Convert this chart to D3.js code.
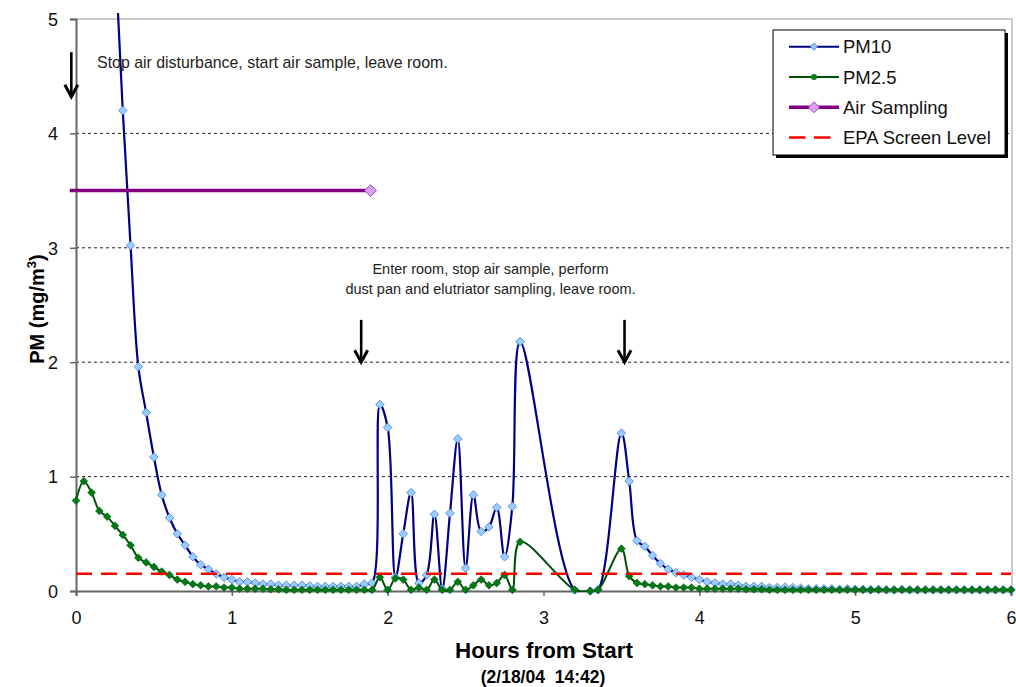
<!DOCTYPE html>
<html>
<head>
<meta charset="utf-8">
<script src="https://cdn.jsdelivr.net/npm/d3@7"></script>
<style>
  body { margin: 0; background: #fff; }
  svg { display: block; font-family: Arial, "Liberation Sans", sans-serif; }
</style>
</head>
<body>
<svg width="1016" height="687"></svg>
<script>
// samples every 3 minutes, 0..6 h (null = no reading)
var sampleStepHours = 0.05;

var pm10 = [
    14.0, 12.0, 10.5, 9.0, 7.2, 5.6, 4.20, 3.02, 1.96, 1.56,
    1.17, 0.84, 0.64, 0.50, 0.40, 0.30, 0.23, 0.19, 0.15, 0.12,
    0.10, 0.08, 0.08, 0.07, 0.06, 0.06, 0.05, 0.05, 0.05, 0.05,
    0.045, 0.04, 0.04, 0.04, 0.04, 0.04, 0.04, 0.06, 0.07, 1.63,
    1.43, 0.12, 0.50, 0.86, 0.07, 0.14, 0.67, 0.02, 0.68, 1.33,
    0.20, 0.84, 0.52, 0.56, 0.73, 0.30, 0.74, 2.18, null, null,
    null, null, null, null, 0.01, null, 0.00, 0.01, null, null,
    1.38, 0.96, 0.44, 0.39, 0.31, 0.24, 0.19, 0.16, 0.14, 0.12,
    0.10, 0.08, 0.07, 0.06, 0.06, 0.05, 0.04, 0.04, 0.04, 0.03,
    0.03, 0.035, 0.03, 0.025, 0.02, 0.02, 0.02, 0.02, 0.015, 0.02,
    0.015, 0.015, 0.01, 0.015, 0.01, 0.01, 0.015, 0.01, 0.01, 0.01,
    0.01, 0.01, 0.01, 0.01, 0.01, 0.01, 0.01, 0.01, 0.01, 0.01, 0.01
];

var pm25 = [
    0.79, 0.96, 0.86, 0.70, 0.65, 0.57, 0.49, 0.40, 0.29, 0.25,
    0.21, 0.17, 0.14, 0.10, 0.08, 0.06, 0.05, 0.04, 0.04, 0.03,
    0.03, 0.02, 0.02, 0.02, 0.02, 0.015, 0.015, 0.01, 0.01, 0.01,
    0.01, 0.01, 0.01, 0.01, 0.01, 0.01, 0.01, 0.01, 0.01, 0.12,
    0.01, 0.11, 0.10, 0.01, 0.03, 0.01, 0.10, 0.01, 0.01, 0.08,
    0.01, 0.05, 0.10, 0.05, 0.07, 0.14, 0.01, 0.43, null, null,
    null, null, null, null, 0.01, null, 0.00, 0.01, null, null,
    0.37, 0.13, 0.07, 0.06, 0.05, 0.04, 0.04, 0.03, 0.03, 0.03,
    0.02, 0.02, 0.02, 0.02, 0.02, 0.02, 0.015, 0.015, 0.015, 0.01,
    0.01, 0.01, 0.01, 0.01, 0.01, 0.01, 0.01, 0.01, 0.01, 0.01,
    0.01, 0.01, 0.01, 0.01, 0.01, 0.01, 0.01, 0.01, 0.01, 0.01,
    0.01, 0.01, 0.01, 0.01, 0.01, 0.01, 0.01, 0.01, 0.01, 0.01, 0.01
];

var airSamplingHours = [-0.04, 1.89];
var airSamplingLevel = [3.5, 3.5];
var epaHours = [0, 6];
var epaLevel = [0.15, 0.15];

var xTicks = [0, 1, 2, 3, 4, 5, 6];
var yTicks = [0, 1, 2, 3, 4, 5];

var seriesNames = ["PM10", "PM2.5", "Air Sampling", "EPA Screen Level"];

// arrows: hour, from value, to value
var arrowHours = [-0.03, 1.83, 3.52];
var arrowFrom = [4.71, 2.37, 2.37];
var arrowTo = [4.32, 2.0, 2.0];

var note1 = "Stop air disturbance, start air sample, leave room.";
var note2 = ["Enter room, stop air sample, perform", "dust pan and elutriator sampling, leave room."];

var svg = d3.select("svg");
var plotLeft = 76, plotRight = 1011, plotTop = 19, plotBottom = 591;

var x = d3.scaleLinear().domain([0, 6]).range([plotLeft, plotRight]);
var y = d3.scaleLinear().domain([0, 5]).range([plotBottom, plotTop]);

function toPoints(vals) {
    var pts = [];
    vals.forEach(function (v, i) {
        if (v !== null) pts.push({ h: i * sampleStepHours, v: v });
    });
    return pts;
}
var pm10Pts = toPoints(pm10);
var pm25Pts = toPoints(pm25);

function diamond(r) {
    return "M0," + (-r) + "L" + r + ",0L0," + r + "L" + (-r) + ",0Z";
}

// lines are cut at the plot area (a little slack at the top, like the original)
svg.append("defs").append("clipPath").attr("id", "clip")
    .append("rect").attr("x", 0).attr("y", plotTop - 6)
    .attr("width", plotRight + 2).attr("height", plotBottom - plotTop + 7);

// gridlines
svg.append("g").selectAll("line")
    .data(yTicks.filter(d => d > 0 && d < 5))
    .enter().append("line")
    .attr("x1", plotLeft).attr("x2", plotRight)
    .attr("y1", d => y(d)).attr("y2", d => y(d))
    .attr("stroke", "#222").attr("stroke-width", 1)
    .attr("stroke-dasharray", "3,3");

// plot border top/right
svg.append("line").attr("x1", plotLeft).attr("x2", plotRight + 1)
    .attr("y1", y(5)).attr("y2", y(5)).attr("stroke", "#999");
svg.append("line").attr("x1", plotRight + 1).attr("x2", plotRight + 1)
    .attr("y1", y(5)).attr("y2", y(0)).attr("stroke", "#999");

// axes
var xAxis = svg.append("g").attr("transform", "translate(0," + plotBottom + ")")
    .call(d3.axisBottom(x).tickValues(xTicks).tickFormat(d3.format("d")).tickSize(5).tickPadding(15));
var yAxis = svg.append("g").attr("transform", "translate(" + plotLeft + ",0)")
    .call(d3.axisLeft(y).tickValues(yTicks).tickFormat(d3.format("d")).tickSize(6).tickPadding(12));
[xAxis, yAxis].forEach(function (a) {
    a.select(".domain").attr("stroke", "#666").attr("stroke-width", 2);
    a.selectAll(".tick line").attr("stroke", "#666").attr("stroke-width", 1.5);
    a.selectAll(".tick text").attr("font-size", 18).attr("fill", "#111")
        .attr("font-family", "Arial, 'Liberation Sans', sans-serif");
});
yAxis.selectAll(".tick text").attr("dy", "0.35em");

var smooth = d3.line().x(d => x(d.h)).y(d => y(d.v)).curve(d3.curveCatmullRom.alpha(0.5));

// PM10
svg.append("g").attr("clip-path", "url(#clip)")
    .append("path").datum(pm10Pts).attr("d", smooth)
    .attr("fill", "none").attr("stroke", "#000080").attr("stroke-width", 2.2);
svg.append("g").selectAll("path").data(pm10Pts.filter(d => d.v <= 5.05)).enter()
    .append("path").attr("d", diamond(4.3))
    .attr("transform", d => "translate(" + x(d.h) + "," + y(d.v) + ")")
    .attr("fill", "#99ccff").attr("stroke", "#4a7fd8").attr("stroke-width", 0.8);

// PM2.5
svg.append("g").attr("clip-path", "url(#clip)")
    .append("path").datum(pm25Pts).attr("d", smooth)
    .attr("fill", "none").attr("stroke", "#00500a").attr("stroke-width", 2);
svg.append("g").selectAll("path").data(pm25Pts).enter()
    .append("path").attr("d", diamond(3.9))
    .attr("transform", d => "translate(" + x(d.h) + "," + y(d.v) + ")")
    .attr("fill", "#007a14").attr("stroke", "#005a0a").attr("stroke-width", 0.6);

// Air Sampling
var airPts = airSamplingHours.map((h, i) => ({ h: h, v: airSamplingLevel[i] }));
svg.append("path").datum(airPts).attr("d", d3.line().x(d => x(d.h)).y(d => y(d.v)))
    .attr("fill", "none").attr("stroke", "#800080").attr("stroke-width", 3.5);
svg.append("g").selectAll("path").data(airPts.filter(d => d.h >= 0)).enter()
    .append("path").attr("d", diamond(6))
    .attr("transform", d => "translate(" + x(d.h) + "," + y(d.v) + ")")
    .attr("fill", "#d9a0f0").attr("stroke", "#a050c0").attr("stroke-width", 1);

// EPA screen level
var epaPts = epaHours.map((h, i) => ({ h: h, v: epaLevel[i] }));
svg.append("path").datum(epaPts).attr("d", d3.line().x(d => x(d.h)).y(d => y(d.v)))
    .attr("fill", "none").attr("stroke", "#ff0000").attr("stroke-width", 2.5)
    .attr("stroke-dasharray", "16,9");

// arrows
var arrows = svg.append("g");
arrowHours.forEach(function (h, i) {
    var ax = x(h), y0 = y(arrowFrom[i]), y1 = y(arrowTo[i]);
    arrows.append("line").attr("x1", ax).attr("x2", ax).attr("y1", y0).attr("y2", y1 - 1)
        .attr("stroke", "#000").attr("stroke-width", 2.6);
    arrows.append("path")
        .attr("d", "M" + (ax - 6.5) + "," + (y1 - 12) + "L" + ax + "," + y1 + "L" + (ax + 6.5) + "," + (y1 - 12))
        .attr("fill", "none").attr("stroke", "#000").attr("stroke-width", 3)
        .attr("stroke-linejoin", "miter");
});

// notes
svg.append("text").attr("x", x(0.135)).attr("y", y(4.57))
    .attr("font-size", 15.9).attr("fill", "#222").text(note1);
svg.append("g").selectAll("text").data(note2).enter().append("text")
    .attr("x", x(2.66)).attr("y", (d, i) => y(2.77) + i * 20)
    .attr("text-anchor", "middle").attr("font-size", 14.5).attr("fill", "#222")
    .text(d => d);

// axis titles
svg.append("text").attr("x", 544).attr("y", 658)
    .attr("text-anchor", "middle").attr("font-weight", "bold").attr("font-size", 22.4)
    .text("Hours from Start");
svg.append("text").attr("x", 543).attr("y", 683)
    .attr("text-anchor", "middle").attr("font-weight", "bold").attr("font-size", 17.5)
    .style("white-space", "pre")
    .text("(2/18/04  14:42)");
var yt = svg.append("text")
    .attr("transform", "translate(44," + ((plotTop + plotBottom) / 2 + 4) + ") rotate(-90)")
    .attr("text-anchor", "middle").attr("font-weight", "bold").attr("font-size", 20);
yt.append("tspan").text("PM (mg/m");
yt.append("tspan").attr("font-size", 13).attr("dy", -8).text("3");
yt.append("tspan").attr("dy", 8).text(")");

// legend
var lg = svg.append("g").attr("transform", "translate(773,30)");
lg.append("rect").attr("x", 3).attr("y", 3).attr("width", 232).attr("height", 125).attr("fill", "#000");
lg.append("rect").attr("width", 232).attr("height", 125).attr("fill", "#fff")
    .attr("stroke", "#000").attr("stroke-width", 1);
var items = lg.selectAll(".item").data(seriesNames).enter().append("g")
    .attr("class", "item").attr("transform", (d, i) => "translate(0," + (16.7 + i * 30.3) + ")");
var lineStyles = [
    { c: "#000080", w: 2, dash: null },
    { c: "#00500a", w: 2, dash: null },
    { c: "#800080", w: 3.5, dash: null },
    { c: "#ff0000", w: 2.5, dash: "16.5,8.5" }
];
items.append("line").attr("x1", 16).attr("x2", 66).attr("y1", 0).attr("y2", 0)
    .attr("stroke", (d, i) => lineStyles[i].c).attr("stroke-width", (d, i) => lineStyles[i].w)
    .attr("stroke-dasharray", (d, i) => lineStyles[i].dash);
items.filter((d, i) => i === 0).append("path").attr("d", diamond(3.5))
    .attr("transform", "translate(41,0)").attr("fill", "#99ccff").attr("stroke", "#4a7fd8");
items.filter((d, i) => i === 1).append("circle").attr("cx", 41).attr("r", 3)
    .attr("fill", "#007a14");
items.filter((d, i) => i === 2).append("path").attr("d", diamond(5.5))
    .attr("transform", "translate(41,0)").attr("fill", "#d9a0f0").attr("stroke", "#a050c0");
items.append("text").attr("x", 70).attr("y", 0).attr("dy", "0.36em")
    .attr("font-size", 18.5).attr("fill", "#111").text(d => d);
</script>
</body>
</html>
